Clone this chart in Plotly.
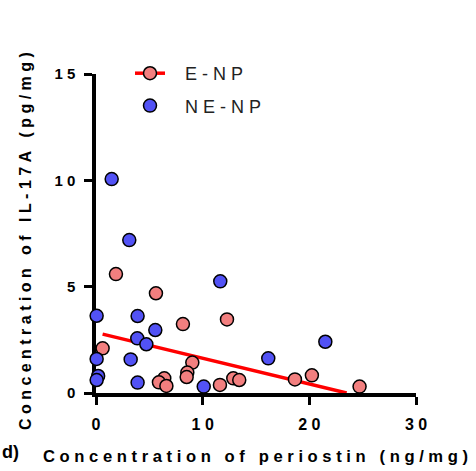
import plotly.graph_objects as go

# ---- data ----
enp_x = [1.87, 5.62, 8.15, 12.28, 0.62, 9.03, 8.56, 8.50, 6.40, 5.90, 6.60, 11.62, 12.87, 13.43, 18.65, 20.24, 24.71]
enp_y = [5.59, 4.69, 3.24, 3.46, 2.10, 1.43, 0.96, 0.75, 0.69, 0.50, 0.33, 0.38, 0.69, 0.61, 0.64, 0.83, 0.30]

nenp_x = [1.47, 3.12, 0.06, 3.90, 5.56, 3.87, 4.72, 0.06, 3.25, 0.20, 0.06, 3.90, 10.10, 11.65, 16.15, 21.50]
nenp_y = [10.06, 7.19, 3.63, 3.62, 2.96, 2.57, 2.29, 1.60, 1.58, 0.80, 0.61, 0.49, 0.30, 5.25, 1.63, 2.41]

fit_x = [0.62, 23.5]
fit_y = [2.77, 0.0]

x_ticks = [0, 10, 20, 30]
y_ticks = [0, 5, 10, 15]

NB = "\u00a0"


def spaced(s, word_gap=3):
    words = s.split(" ")
    return (NB * word_gap).join(NB.join(list(w)) for w in words)


RED_FILL = "#F27F7F"
BLUE_FILL = "#5252F5"
FONT = "Arial, Liberation Sans, sans-serif"

fig = go.Figure()

# regression line
fig.add_trace(go.Scatter(x=fit_x, y=fit_y, mode="lines",
                         line=dict(color="#FF0000", width=3.5),
                         showlegend=False, hoverinfo="skip", cliponaxis=False))

fig.add_trace(go.Scatter(x=enp_x, y=enp_y, mode="markers",
                         marker=dict(size=13, color=RED_FILL, line=dict(color="black", width=1.5)),
                         showlegend=False, cliponaxis=False))
fig.add_trace(go.Scatter(x=nenp_x, y=nenp_y, mode="markers",
                         marker=dict(size=13, color=BLUE_FILL, line=dict(color="black", width=1.5)),
                         showlegend=False, cliponaxis=False))

# legend entries
fig.add_trace(go.Scatter(x=[None], y=[None], mode="lines+markers", name=NB * 3 + spaced("E-NP"),
                         line=dict(color="#FF0000", width=3.5),
                         marker=dict(size=13, color=RED_FILL, line=dict(color="black", width=1.5)),
                         legendgroup="a"))
fig.add_trace(go.Scatter(x=[None], y=[None], mode="markers", name=NB * 3 + spaced("NE-NP"),
                         marker=dict(size=13, color=BLUE_FILL, line=dict(color="black", width=1.5)),
                         legendgroup="b"))

axis_common = dict(showgrid=False, zeroline=False, showline=True, linecolor="black", linewidth=3.5,
                   ticks="outside", ticklen=8, tickwidth=3, tickcolor="black", layer="below traces")

fig.update_xaxes(range=[0, 30], tickvals=x_ticks, ticktext=[NB.join(str(v)) for v in x_ticks],
                 tickfont=dict(family=FONT, size=16, color="black", weight="bold"),
                 ticklabelstandoff=6, **axis_common)
fig.update_yaxes(range=[0, 15], tickvals=y_ticks, ticktext=[NB.join(str(v)) for v in y_ticks],
                 tickfont=dict(family=FONT, size=15, color="black", weight="bold"),
                 ticklabelstandoff=6, **axis_common)

L, R, T, B = 96, 60, 74, 78
W, H = 476, 471
pw, ph = W - L - R, H - T - B


def px_x(p):
    return (p - L) / pw


def px_y(p):
    return (H - B - p) / ph


fig.add_annotation(text=spaced("Concentration of periostin (ng/mg)"), xref="paper", yref="paper",
                   x=px_x(255), y=px_y(456), showarrow=False, xanchor="center", yanchor="middle",
                   font=dict(family=FONT, size=16.6, color="black", weight="bold"))
fig.add_annotation(text=spaced("Concentration of IL-17A (pg/mg)"), xref="paper", yref="paper",
                   x=px_x(25), y=px_y(241), showarrow=False, xanchor="center", yanchor="middle",
                   textangle=-90,
                   font=dict(family=FONT, size=16.0, color="black", weight="bold"))
fig.add_annotation(text="d)", xref="paper", yref="paper",
                   x=px_x(0), y=px_y(452), showarrow=False, xanchor="left", yanchor="middle",
                   font=dict(family=FONT, size=18, color="black", weight="bold"))

fig.update_layout(
    width=W, height=H,
    margin=dict(l=L, r=R, t=T, b=B, pad=0),
    paper_bgcolor="white", plot_bgcolor="white",
    legend=dict(x=px_x(130), y=px_y(55), xanchor="left", yanchor="top",
                font=dict(family=FONT, size=18, color="#222222"),
                bgcolor="rgba(0,0,0,0)", tracegroupgap=6, traceorder="grouped"),
    showlegend=True,
)

fig.write_html("out.html")
